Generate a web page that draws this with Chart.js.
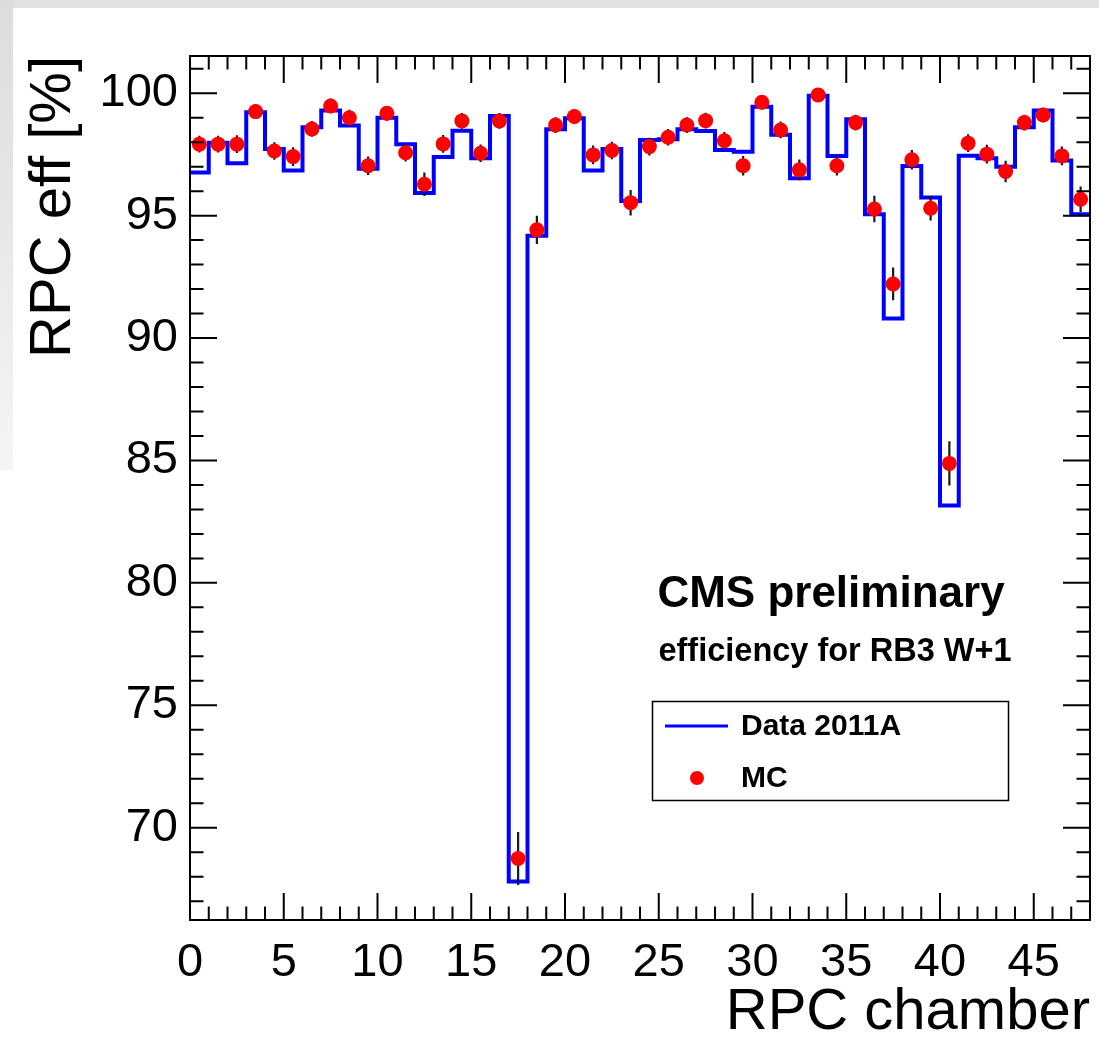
<!DOCTYPE html>
<html>
<head>
<meta charset="utf-8">
<title>RPC efficiency RB3 W+1</title>
<script src="https://cdn.jsdelivr.net/npm/chart.js@4.4.1/dist/chart.umd.min.js"></script>
<style>
  html, body { margin: 0; padding: 0; background: #fff; }
  #wrap { position: relative; width: 1099px; height: 1040px; overflow: hidden; }
  #topband { position: absolute; left: 0; top: 0; width: 1099px; height: 8px; background: #e1e1e1; }
  #leftband { position: absolute; left: 0; top: 0; width: 13px; height: 470px; background: linear-gradient(#dcdcdc, #f5f5f5); }
  canvas { position: absolute; left: 0; top: 0; }
</style>
</head>
<body>
<div id="wrap">
  <div id="topband"></div>
  <div id="leftband"></div>
  <canvas id="effChart" width="1099" height="1040"></canvas>
</div>
<script>
// Tick labels
const xTickLabels = [0, 5, 10, 15, 20, 25, 30, 35, 40, 45];
const yTickLabels = [70, 75, 80, 85, 90, 95, 100];

// Data 2011A efficiency, one value per chamber bin (0..47)
const dataEff = [
    96.76, 97.98, 97.14, 99.22, 97.72, 96.84, 98.61, 99.29, 98.68, 96.91,
    99.00, 97.92, 95.92, 97.39, 98.47, 97.34, 99.07, 67.80, 94.18, 98.53,
    98.98, 96.84, 97.72, 95.60, 98.09, 98.12, 98.53, 98.46, 97.68, 97.61,
    99.45, 98.30, 96.53, 99.90, 97.44, 98.94, 95.06, 90.80, 97.03, 95.74,
    83.16, 97.45, 97.34, 97.00, 98.61, 99.29, 97.25, 95.06
];

// MC efficiency and its error, one value per chamber bin
const mcEff = [
    97.92, 97.92, 97.92, 99.25, 97.64, 97.41, 98.54, 99.48, 99.00, 97.04,
    99.18, 97.57, 96.28, 97.93, 98.87, 97.55, 98.87, 68.74, 94.42, 98.70,
    99.05, 97.48, 97.66, 95.53, 97.82, 98.20, 98.70, 98.88, 98.06, 97.04,
    99.63, 98.50, 96.87, 99.93, 97.04, 98.80, 95.27, 92.21, 97.28, 95.30,
    84.88, 97.96, 97.51, 96.80, 98.80, 99.11, 97.44, 95.67
];
const mcErr = [
    0.34, 0.34, 0.36, 0.30, 0.36, 0.38, 0.32, 0.30, 0.32, 0.38,
    0.30, 0.36, 0.48, 0.36, 0.32, 0.36, 0.32, 1.08, 0.58, 0.32,
    0.30, 0.38, 0.36, 0.52, 0.36, 0.34, 0.32, 0.32, 0.36, 0.40,
    0.30, 0.34, 0.42, 0.28, 0.40, 0.32, 0.54, 0.67, 0.40, 0.50,
    0.90, 0.36, 0.38, 0.44, 0.32, 0.30, 0.38, 0.52
];

const FONT = '"Liberation Sans", Arial, Helvetica, sans-serif';

// histogram drawn as a stepped line over the bin edges
const histPoints = dataEff.map((v, i) => ({ x: i, y: v }));
histPoints.push({ x: dataEff.length, y: dataEff[dataEff.length - 1] });

// MC markers sit at bin centres
const mcPoints = mcEff.map((v, i) => ({ x: i + 0.5, y: v }));

// ROOT-style frame, inner ticks, error bars and text boxes
const rootStyle = {
    id: 'rootStyle',
    afterDatasetDraw(chart, args) {
        if (args.index !== 1) return;
        const { ctx, scales: { x, y } } = chart;
        ctx.save();
        ctx.strokeStyle = '#1a1a1a';
        ctx.lineWidth = 2.2;
        ctx.beginPath();
        mcEff.forEach((v, i) => {
            const px = x.getPixelForValue(i + 0.5);
            ctx.moveTo(px, y.getPixelForValue(v - mcErr[i]));
            ctx.lineTo(px, y.getPixelForValue(v + mcErr[i]));
        });
        ctx.stroke();
        ctx.restore();
    },
    afterDraw(chart) {
        const { ctx, chartArea: a, scales: { x, y } } = chart;
        ctx.save();
        ctx.strokeStyle = '#000';
        ctx.lineWidth = 2;
        ctx.strokeRect(a.left, a.top, a.right - a.left, a.bottom - a.top);

        ctx.beginPath();
        for (let v = Math.ceil(x.min) + 1; v < x.max; v++) {
            const px = x.getPixelForValue(v);
            const len = v % 5 === 0 ? 27 : 13.5;
            ctx.moveTo(px, a.bottom); ctx.lineTo(px, a.bottom - len);
            ctx.moveTo(px, a.top); ctx.lineTo(px, a.top + len);
        }
        for (let v = Math.ceil(y.min); v <= Math.floor(y.max); v++) {
            const py = y.getPixelForValue(v);
            const len = v % 5 === 0 ? 27 : 13.5;
            ctx.moveTo(a.left, py); ctx.lineTo(a.left + len, py);
            ctx.moveTo(a.right, py); ctx.lineTo(a.right - len, py);
        }
        ctx.stroke();

        // labels
        ctx.fillStyle = '#000';
        ctx.textAlign = 'center';
        ctx.textBaseline = 'alphabetic';
        ctx.font = 'bold 44px ' + FONT;
        ctx.fillText('CMS preliminary', 831, 607);
        ctx.font = 'bold 32.5px ' + FONT;
        ctx.fillText('efficiency for RB3 W+1', 835, 661);

        // legend
        ctx.lineWidth = 1.5;
        ctx.strokeRect(652.5, 701.5, 356, 99);
        ctx.strokeStyle = '#0000ff';
        ctx.lineWidth = 3;
        ctx.beginPath();
        ctx.moveTo(665, 726); ctx.lineTo(728, 726);
        ctx.stroke();
        ctx.fillStyle = '#ff0000';
        ctx.beginPath();
        ctx.arc(697, 778, 7, 0, Math.PI * 2);
        ctx.fill();
        ctx.fillStyle = '#000';
        ctx.textAlign = 'left';
        ctx.textBaseline = 'middle';
        ctx.font = 'bold 30px ' + FONT;
        ctx.fillText('Data 2011A', 741, 727);
        ctx.fillText('MC', 741, 779);
        ctx.restore();
    }
};

const ctx = document.getElementById('effChart').getContext('2d');
const chart = new Chart(ctx, {
    type: 'line',
    data: {
        datasets: [{
            label: 'MC',
            data: mcPoints,
            showLine: false,
            pointRadius: 7.5,
            pointBackgroundColor: '#ff0000',
            pointBorderWidth: 0,
            order: 0
        }, {
            label: 'Data 2011A',
            data: histPoints,
            stepped: true,
            borderColor: '#0000ff',
            borderWidth: 4,
            pointRadius: 0,
            fill: false,
            order: 1
        }]
    },
    options: {
        responsive: false,
        animation: false,
        layout: { padding: { top: 56, right: 9, bottom: 0, left: 0 } },
        plugins: {
            legend: { display: false },
            tooltip: { enabled: false }
        },
        scales: {
            x: {
                type: 'linear',
                min: 0,
                max: 48,
                afterBuildTicks: s => { s.ticks = xTickLabels.map(v => ({ value: v })); },
                afterFit: s => { s.height = 120; },
                grid: { display: false, drawTicks: false },
                border: { display: false },
                ticks: {
                    color: '#000',
                    font: { family: FONT, size: 47 },
                    padding: 15,
                    maxRotation: 0,
                    autoSkip: false
                },
                title: {
                    display: true,
                    text: 'RPC chamber',
                    align: 'end',
                    color: '#000',
                    font: { family: FONT, size: 58, lineHeight: 1 },
                    padding: { top: 0, bottom: -2 }
                }
            },
            y: {
                type: 'linear',
                min: 66.23,
                max: 101.52,
                afterBuildTicks: s => { s.ticks = yTickLabels.map(v => ({ value: v })); },
                afterFit: s => { s.width = 190; },
                grid: { display: false, drawTicks: false },
                border: { display: false },
                ticks: {
                    color: '#000',
                    font: { family: FONT, size: 47 },
                    padding: 12
                },
                title: {
                    display: true,
                    text: 'RPC eff [%]',
                    align: 'end',
                    color: '#000',
                    font: { family: FONT, size: 58, lineHeight: 1 },
                    padding: { top: 25, bottom: 0 }
                }
            }
        }
    },
    plugins: [rootStyle]
});
</script>
</body>
</html>
